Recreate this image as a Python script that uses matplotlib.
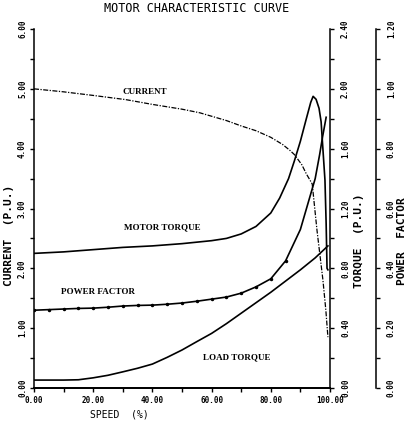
import numpy as np
import matplotlib
matplotlib.use('Agg')
import matplotlib.pyplot as plt
from matplotlib.ticker import MultipleLocator, FormatStrFormatter

# values
current_speed = [0, 10, 20, 31, 40, 50, 56, 65, 70, 75, 80, 84, 86.5, 88, 90.5, 92, 94, 95.6, 97.6, 98.6, 99.3]
current = [5.0, 4.95, 4.89, 4.82, 4.74, 4.66, 4.60, 4.47, 4.38, 4.30, 4.19, 4.07, 3.97, 3.90, 3.73, 3.58, 3.41, 2.64, 1.81, 1.30, 0.85]

motor_speed = [0, 10, 20, 30, 40, 50, 60, 65, 70, 75, 80, 83, 86, 88, 90, 92, 93.5, 94.3, 95.3, 96.3, 97, 97.6, 98.3, 98.7, 99.0, 99.3]
motor_torque = [0.90, 0.91, 0.925, 0.94, 0.95, 0.965, 0.985, 1.00, 1.03, 1.08, 1.17, 1.27, 1.40, 1.52, 1.65, 1.80, 1.91, 1.95, 1.93, 1.87, 1.78, 1.60, 1.39, 1.10, 0.80, 0.79]

load_speed = [0, 10, 15, 20, 25, 30, 35, 40, 45, 50, 55, 60, 65, 70, 75, 80, 85, 90, 95, 99.3]
load_torque = [0.053, 0.053, 0.055, 0.068, 0.085, 0.108, 0.132, 0.16, 0.205, 0.254, 0.31, 0.365, 0.43, 0.50, 0.57, 0.64, 0.715, 0.79, 0.87, 0.95]

pf_speed = [0, 5, 10, 15, 20, 25, 30, 35, 40, 45, 50, 55, 60, 65, 70, 75, 80, 85, 90, 95, 96.5, 97.5, 98.7]
power_factor = [0.26, 0.262, 0.264, 0.266, 0.267, 0.27, 0.274, 0.276, 0.277, 0.28, 0.284, 0.29, 0.297, 0.304, 0.317, 0.338, 0.365, 0.425, 0.53, 0.70, 0.78, 0.84, 0.905]

mono = 'DejaVu Sans Mono'
serif = 'Liberation Serif'

fig = plt.figure(figsize=(4.08, 4.26), dpi=100)
ax = fig.add_axes([0.0833, 0.0892, 0.7255, 0.8427])
ax2 = ax.twinx()
ax3 = ax.twinx()
ax3.spines['right'].set_position(('axes', 1.155))

lw = 1.2
ax.plot(current_speed, current, color='black', lw=0.9, ls=(0, (4, 1.2, 1, 1.2)))
ax2.plot(motor_speed, motor_torque, color='black', lw=lw)
ax2.plot(load_speed, load_torque, color='black', lw=lw)
ax3.plot(pf_speed, power_factor, color='black', lw=lw, marker='o', ms=1.5,
         markevery=list(range(18)))

ax.set_xlim(0, 100)
ax.set_ylim(0, 6)
ax2.set_ylim(0, 2.4)
ax3.set_ylim(0, 1.2)

for a in (ax, ax2, ax3):
    a.spines['top'].set_visible(False)
ax.spines['right'].set_visible(False)
ax2.spines['left'].set_visible(False)
ax3.spines['left'].set_visible(False)
for a in (ax, ax2, ax3):
    for s in a.spines.values():
        s.set_linewidth(1.1)

ax.xaxis.set_major_locator(MultipleLocator(20))
ax.xaxis.set_minor_locator(MultipleLocator(10))
ax.yaxis.set_major_locator(MultipleLocator(1))
ax.yaxis.set_minor_locator(MultipleLocator(0.5))
ax2.yaxis.set_major_locator(MultipleLocator(0.4))
ax2.yaxis.set_minor_locator(MultipleLocator(0.2))
ax3.yaxis.set_major_locator(MultipleLocator(0.2))
ax3.yaxis.set_minor_locator(MultipleLocator(0.1))
for axis in (ax.xaxis, ax.yaxis, ax2.yaxis, ax3.yaxis):
    axis.set_major_formatter(FormatStrFormatter('%.2f'))

for a in (ax, ax2, ax3):
    a.tick_params(which='both', direction='out', length=3, width=1.0, labelsize=5.5)
ax.tick_params(axis='x', pad=3)
ax.tick_params(axis='y', pad=2)
ax2.tick_params(axis='y', pad=5)
ax3.tick_params(axis='y', pad=5)

for lab in ax.get_xticklabels():
    lab.set_fontfamily(mono)
    lab.set_fontweight('bold')
for a in (ax, ax2, ax3):
    for lab in a.get_yticklabels():
        lab.set_fontfamily(mono)
        lab.set_fontweight('bold')
        lab.set_rotation(90)
        lab.set_va('center')

ax.set_xlabel('SPEED  (%)', fontfamily=mono, fontsize=7)
ax.xaxis.set_label_coords(0.29, -0.06)
ax.set_ylabel('CURRENT  (P.U.)', fontfamily=mono, fontsize=8, fontweight='bold')
ax.yaxis.set_label_coords(-0.066, 0.426)
ax2.set_ylabel('TORQUE  (P.U.)', fontfamily=mono, fontsize=8, fontweight='bold')
ax2.yaxis.set_label_coords(1.08, 0.41)
ax3.set_ylabel('POWER  FACTOR', fontfamily=mono, fontsize=8, fontweight='bold')
ax3.yaxis.set_label_coords(1.228, 0.41)

fig.text(0.483, 0.981, 'MOTOR CHARACTERISTIC CURVE', fontfamily=mono, fontsize=8.5,
         ha='center', va='center')

ax.text(37.5, 4.95, 'CURRENT', fontfamily=serif, fontweight='bold', fontsize=6.5, ha='center', va='center')
ax.text(43.2, 2.68, 'MOTOR TORQUE', fontfamily=serif, fontweight='bold', fontsize=6.5, ha='center', va='center')
ax.text(21.6, 1.61, 'POWER FACTOR', fontfamily=serif, fontweight='bold', fontsize=6.5, ha='center', va='center')
ax.text(68.6, 0.52, 'LOAD TORQUE', fontfamily=serif, fontweight='bold', fontsize=6.5, ha='center', va='center')

fig.savefig('out.png', dpi=100)
